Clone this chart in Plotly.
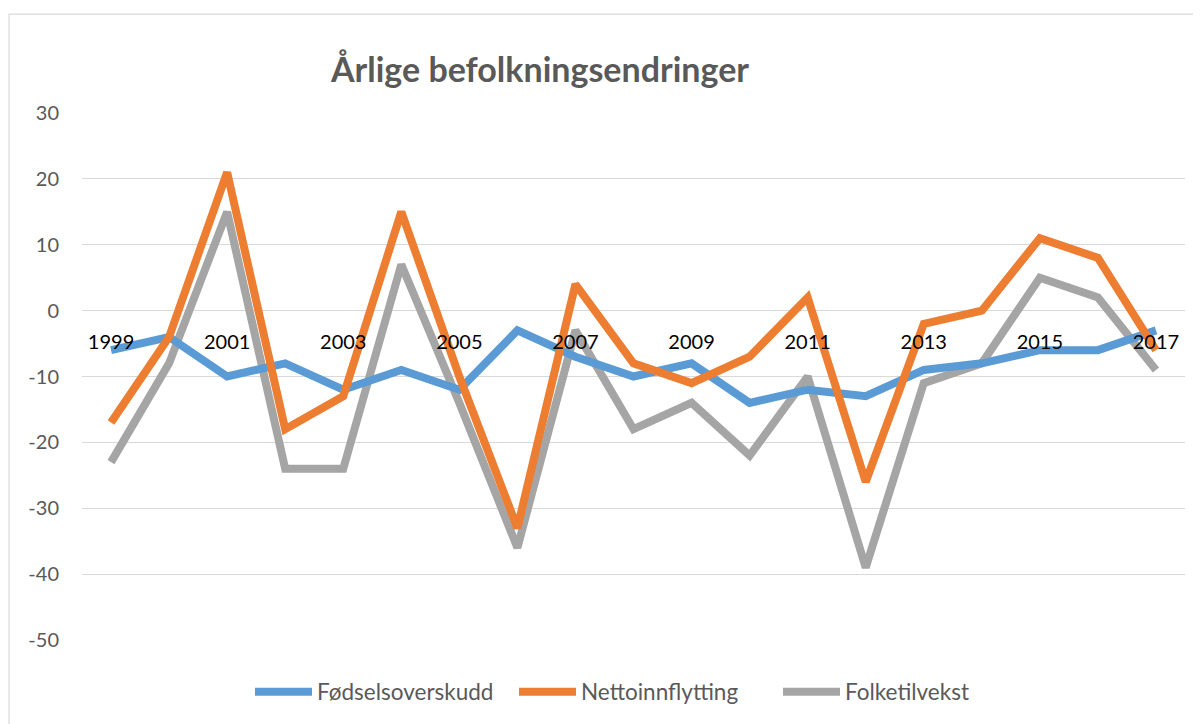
import plotly.graph_objects as go

years = list(range(1999, 2018))
fodselsoverskudd = [-6, -4, -10, -8, -12, -9, -12, -3, -7, -10, -8, -14, -12, -13, -9, -8, -6, -6, -3]
nettoinnflytting = [-17, -4, 21, -18, -13, 15, -10, -33, 4, -8, -11, -7, 2, -26, -2, 0, 11, 8, -6]
folketilvekst = [-23, -8, 15, -24, -24, 7, -14, -36, -3, -18, -14, -22, -10, -39, -11, -8, 5, 2, -9]

series_names = ["Fødselsoverskudd", "Nettoinnflytting", "Folketilvekst"]
colors = ["#5B9BD5", "#ED7D31", "#A5A5A5"]
y_ticks = [-50, -40, -30, -20, -10, 0, 10, 20, 30]
y_ticktext = [str(v) for v in y_ticks]  # plain hyphen-minus
x_ticks = years[::2]

# page body has an 8px margin; work in figure coordinates (page - 8)
O = 8
W, H = 1201 - O, 724 - O
L, R, T, B = 82 - O, 1185 - O, 113 - O, 641 - O
pw = R - L
ph = B - T

fig = go.Figure()
# draw order: gray, blue, orange ; legend order: blue, orange, gray
order = [(2, folketilvekst), (0, fodselsoverskudd), (1, nettoinnflytting)]
for idx, vals in order:
    fig.add_trace(go.Scatter(
        x=years, y=vals, mode="lines", name=series_names[idx],
        line=dict(color=colors[idx], width=8),
        legendrank=idx + 1,
    ))

fig.add_shape(type="rect", xref="paper", yref="paper",
              x0=(9 - O - L) / pw, x1=(1215 - O - L) / pw,
              y0=(B - 760) / ph, y1=(B - (14 - O)) / ph,
              line=dict(color="#D9D9D9", width=1.2), fillcolor="rgba(0,0,0,0)",
              layer="below")

fig.update_layout(
    width=W, height=H,
    margin=dict(l=L, r=W - R, t=T, b=H - B, pad=0),
    paper_bgcolor="white", plot_bgcolor="white",
    font=dict(family="Lato, 'Open Sans', sans-serif", color="#595959"),
    title=dict(text="<b>Årlige befolkningsendringer</b>",
               font=dict(size=34, color="#595959", family="Lato, sans-serif"),
               xref="paper", x=(540 - O - L) / pw, xanchor="center",
               yref="container", y=1 - (70 - O) / H, yanchor="middle"),
    showlegend=True,
    legend=dict(orientation="h", x=(646 - O - L) / pw, xanchor="center",
                y=(B - (692 - O)) / ph, yanchor="middle",
                font=dict(size=22.5, color="#595959"),
                traceorder="normal", itemwidth=57,
                entrywidth=192, entrywidthmode="pixels"),
    xaxis=dict(range=[1998.5, 2017.5], tickmode="array", tickvals=x_ticks,
               ticktext=[str(v) for v in x_ticks],
               showgrid=False, zeroline=False, showline=False,
               anchor="free", position=(B - (311 - O)) / ph,
               tickfont=dict(size=20, color="black"),
               ticks="", ticklabelstandoff=17),
    yaxis=dict(range=[-50, 30], tickmode="array", tickvals=y_ticks,
               ticktext=y_ticktext,
               showgrid=True, gridcolor="#D9D9D9", gridwidth=1.3,
               zeroline=True, zerolinecolor="#D9D9D9", zerolinewidth=1.3,
               showline=False, ticks="",
               tickfont=dict(size=20, color="#595959"),
               ticklabelstandoff=22),
)

fig.write_html("out.html")
